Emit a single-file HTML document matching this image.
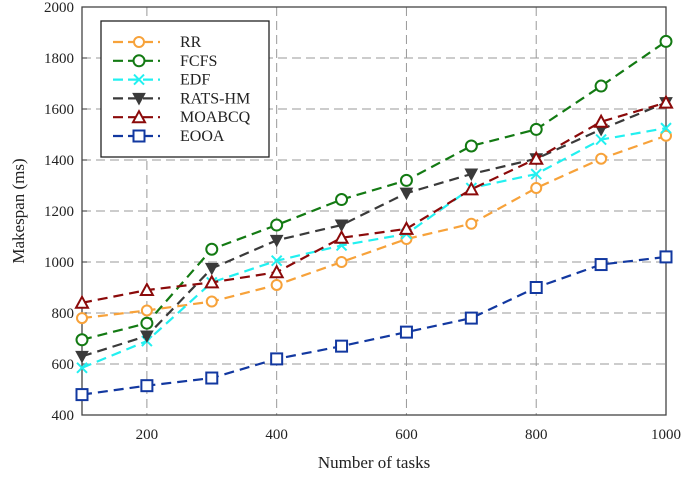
<!DOCTYPE html>
<html><head><meta charset="utf-8"><style>
body{margin:0;background:#fff}
svg text{font-family:"Liberation Serif",serif;fill:#222}
</style></head><body>
<svg id="c" width="685" height="482" xmlns="http://www.w3.org/2000/svg"></svg>
<script>
const xCats=[100,200,300,400,500,600,700,800,900,1000];
const xTicks=[200,400,600,800,1000];
const yTicks=[400,600,800,1000,1200,1400,1600,1800,2000];
const rr=[780,810,845,910,1000,1090,1150,1290,1405,1495];
const fcfs=[695,760,1050,1145,1245,1320,1455,1520,1690,1865];
const edf=[585,690,920,1005,1065,1110,1290,1345,1480,1525];
const rats=[630,710,975,1085,1145,1270,1345,1405,1520,1625];
const moabcq=[840,890,920,960,1095,1130,1285,1405,1550,1625];
const eooa=[480,515,545,620,670,725,780,900,990,1020];
const seriesNames=["RR","FCFS","EDF","RATS-HM","MOABCQ","EOOA"];
const L=82,R=666,T=7,B=415;
const xs=v=>L+(v-100)/900*(R-L);
const ys=v=>B-(v-400)/1600*(B-T);
const svg=document.getElementById('c');
const NS="http://www.w3.org/2000/svg";
function mk(t,a,p){const e=document.createElementNS(NS,t);for(const k in a)e.setAttribute(k,a[k]);(p||svg).appendChild(e);return e;}
yTicks.forEach(v=>{const y=ys(v);
 const g=mk('line',{x1:L,x2:R,y1:y,y2:y,stroke:'#999','stroke-dasharray':'9,5','stroke-width':1});
 
 const t=mk('text',{x:L-8,y:y+5,'text-anchor':'end','font-size':15});t.textContent=v;
 
 mk('line',{x1:L,x2:L+5,y1:y,y2:y,stroke:'#333'});
});
xTicks.forEach(v=>{const x=xs(v);
 const g=mk('line',{x1:x,x2:x,y1:T,y2:B,stroke:'#999','stroke-dasharray':'9,5','stroke-width':1});
 
 const t=mk('text',{x:x,y:B+24,'text-anchor':'middle','font-size':15});t.textContent=v;
 
});
const fr=mk('rect',{x:L,y:T,width:R-L,height:B-T,fill:'none',stroke:'#444','stroke-width':1.3});

const xt=mk('text',{x:(L+R)/2,y:468,'text-anchor':'middle','font-size':17});xt.textContent='Number of tasks';

const yt=mk('text',{x:0,y:0,'text-anchor':'middle','font-size':17,transform:`translate(24,${(T+B)/2}) rotate(-90)`});yt.textContent='Makespan (ms)';

function marker(type,x,y,col,g){
 if(type==='circle')mk('circle',{cx:x,cy:y,r:5.5,fill:'#fff',stroke:col,'stroke-width':2},g);
 else if(type==='hex')mk('circle',{cx:x,cy:y,r:5,fill:'#fff',stroke:col,'stroke-width':2},g);
 else if(type==='x'){mk('path',{d:`M${x-5},${y-5}L${x+5},${y+5}M${x-5},${y+5}L${x+5},${y-5}`,stroke:col,'stroke-width':2},g);}
 else if(type==='tdown')mk('path',{d:`M${x-6},${y-5}L${x+6},${y-5}L${x},${y+6}Z`,fill:col,stroke:col},g);
 else if(type==='tup')mk('path',{d:`M${x-6},${y+5}L${x+6},${y+5}L${x},${y-6}Z`,fill:'#fff',stroke:col,'stroke-width':2},g);
 else if(type==='sq')mk('rect',{x:x-5.5,y:y-5.5,width:11,height:11,fill:'#fff',stroke:col,'stroke-width':2},g);
}
const series=[[rr,'#f7a23a','hex','series-rr'],[fcfs,'#137a13','circle','series-fcfs'],[edf,'#22f0f0','x','series-edf'],[rats,'#3a3a3a','tdown','series-rats-hm'],[moabcq,'#8b0a0a','tup','series-moabcq'],[eooa,'#1238a0','sq','series-eooa']];
series.forEach(([d,col,m,name])=>{
 const g=mk('g',{});
 mk('polyline',{points:d.map((v,i)=>xs(xCats[i])+','+ys(v)).join(' '),fill:'none',stroke:col,'stroke-width':2.2,'stroke-dasharray':'10,6'},g);
 d.forEach((v,i)=>marker(m,xs(xCats[i]),ys(v),col,g));
});
const lg=mk('g',{});
mk('rect',{x:101,y:21,width:168,height:136,fill:'#fff',stroke:'#222','stroke-width':1.3},lg);
series.forEach(([d,col,m,name],i)=>{const y=42+i*18.8;
 const e=mk('g',{},lg);
 mk('line',{x1:113,x2:160,y1:y,y2:y,stroke:col,'stroke-width':2.2,'stroke-dasharray':'10,5'},e);
 marker(m,139,y,col,e);
 const t=mk('text',{x:180,y:y+5,'font-size':16},e);t.textContent=seriesNames[i];
});
</script>
</body></html>
